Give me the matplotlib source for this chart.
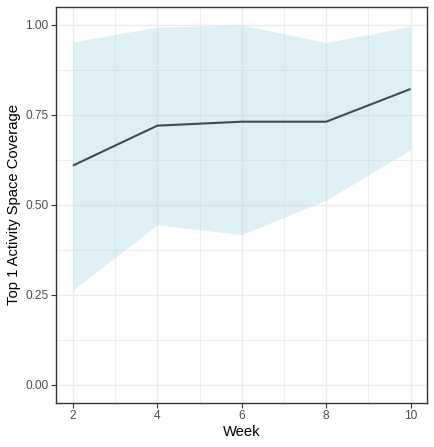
import matplotlib
matplotlib.use("Agg")
import matplotlib.pyplot as plt
import numpy as np

weeks = [2, 4, 6, 8, 10]
coverage = [0.609, 0.720, 0.731, 0.731, 0.822]
upper = [0.953, 0.994, 1.000, 0.951, 0.996]
lower = [0.263, 0.444, 0.417, 0.513, 0.653]
x_ticks = [2, 4, 6, 8, 10]
y_ticks = [0.00, 0.25, 0.50, 0.75, 1.00]
y_tick_labels = ["0.00", "0.25", "0.50", "0.75", "1.00"]

plt.rcParams['font.family'] = ['Liberation Sans', 'DejaVu Sans']

fig = plt.figure(figsize=(4.35, 4.47), dpi=100)
ax = fig.add_axes([56/435, 1-402.5/447, (427.5-56)/435, (402.5-7)/447])

ax.fill_between(weeks, lower, upper, color='#ADD8E6', alpha=0.4, linewidth=0, zorder=2)
ax.plot(weeks, coverage, color='#3C4E57', linewidth=1.5, zorder=3, solid_capstyle='butt')

ax.set_xlim(1.6, 10.4)
ax.set_ylim(-0.05, 1.05)
ax.set_xticks(x_ticks)
ax.set_yticks(y_ticks)
ax.set_yticklabels(y_tick_labels)
ax.set_xticks([3, 5, 7, 9], minor=True)
ax.set_yticks([0.125, 0.375, 0.625, 0.875], minor=True)
ax.grid(which='major', color='#EBEBEB', linewidth=1.0, zorder=1)
ax.grid(which='minor', color='#EBEBEB', linewidth=0.6, zorder=1)
ax.set_axisbelow(True)
ax.tick_params(which='minor', length=0)
ax.tick_params(which='major', length=3.5, width=0.8, color='#333333', labelcolor='#4D4D4D', labelsize=8.6, pad=2)
for s in ax.spines.values():
    s.set_color('#333333')
    s.set_linewidth(1.0)

ax.set_xlabel('Week', fontsize=10.6, color='black', labelpad=2)
ax.set_ylabel('Top 1 Activity Space Coverage', fontsize=10.6, color='black', labelpad=3)

fig.savefig('out.png', dpi=100)
